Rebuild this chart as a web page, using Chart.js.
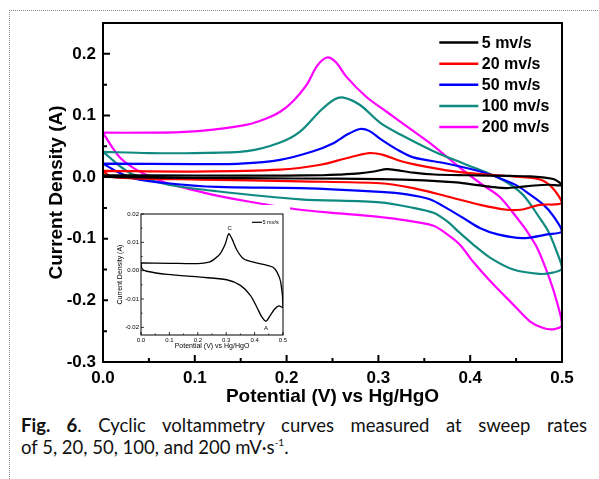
<!DOCTYPE html>
<html>
<head>
<meta charset="utf-8">
<script src="https://cdn.jsdelivr.net/npm/chart.js@4.4.1/dist/chart.umd.min.js"></script>
<style>
  html, body { margin: 0; padding: 0; background: #fff; }
  body { width: 599px; height: 479px; position: relative; overflow: hidden; }
  #frame { position: absolute; left: 9px; top: 10px; width: 600px; height: 480px;
           border-top: 1px dotted #8a8a8a; border-left: 1px dotted #8a8a8a; }
  #main { position: absolute; left: 0; top: 0; }
  #inset { position: absolute; left: 108px; top: 205px; background: #fff; }
  #caption { position: absolute; left: 21px; top: 414px; width: 566px;
             font-family: Lato, "Open Sans", sans-serif; font-size: 18.5px; line-height: 22px; color: #111; }
  #caption .l1 { text-align: justify; text-align-last: justify; }
  #caption sup { font-size: 10px; line-height: 0; vertical-align: 8px; }
</style>
</head>
<body>
<div id="frame"></div>
<canvas id="main" width="599" height="408"></canvas>
<canvas id="inset" width="182" height="150"></canvas>
<div id="caption">
  <div class="l1"><b>Fig. 6</b>. Cyclic voltammetry curves measured at sweep rates</div>
  <div>of 5, 20, 50, 100, and 200 mV·s<sup>-1</sup>.</div>
</div>
<script>
// sweep rates (legend labels)
const rates = ['5 mv/s', '20 mv/s', '50 mv/s', '100 mv/s', '200 mv/s'];

// each loop: forward sweep 0 -> 0.5 V, then reverse sweep back to 0 V
const v5 = [0, 0.1, 0.2, 0.24, 0.256, 0.279, 0.297, 0.309, 0.32, 0.338, 0.361, 0.396, 0.444, 0.465, 0.479, 0.492, 0.5,
            0.485, 0.47, 0.455, 0.44, 0.426, 0.408, 0.385, 0.35, 0.302, 0.209, 0.092, 0.02, 0.004, 0];
const i5 = [0.0027, 0.0026, 0.0025, 0.003, 0.0039, 0.006, 0.0095, 0.013, 0.0113, 0.0072, 0.0042, 0.003, 0.0019, 0.0012, -0.0005, -0.004, -0.0129,
            -0.0124, -0.0136, -0.0158, -0.0178, -0.0164, -0.0129, -0.0087, -0.0052, -0.0032, -0.0023, -0.0013, -0.0002, 0.0006, 0.0027];

const v20 = [0, 0.1, 0.193, 0.237, 0.266, 0.29, 0.305, 0.324, 0.338, 0.374, 0.411, 0.447, 0.476, 0.49, 0.5,
             0.476, 0.455, 0.44, 0.411, 0.374, 0.338, 0.302, 0.215, 0.106, 0.033, 0.008, 0];
const i20 = [0.010, 0.009, 0.012, 0.020, 0.031, 0.039, 0.036, 0.026, 0.021, 0.011, 0.005, 0.001, -0.004, -0.018, -0.042,
             -0.045, -0.053, -0.053, -0.045, -0.031, -0.018, -0.010, -0.007, -0.004, -0.002, 0.001, 0.010];

const v50 = [0, 0.1, 0.15, 0.193, 0.229, 0.251, 0.266, 0.28, 0.29, 0.302, 0.32, 0.338, 0.374, 0.411, 0.429, 0.45, 0.465, 0.48, 0.49, 0.5,
             0.484, 0.457, 0.43, 0.411, 0.392, 0.374, 0.356, 0.331, 0.302, 0.215, 0.124, 0.07, 0.033, 0.015, 0];
const i50 = [0.022, 0.021, 0.022, 0.028, 0.042, 0.055, 0.069, 0.078, 0.075, 0.062, 0.045, 0.032, 0.022, 0.009, 0.0, -0.013, -0.028, -0.045, -0.062, -0.088,
             -0.093, -0.099, -0.093, -0.083, -0.066, -0.050, -0.036, -0.028, -0.024, -0.018, -0.016, -0.010, -0.002, 0.009, 0.022];

const v100 = [0, 0.05, 0.1, 0.157, 0.193, 0.215, 0.237, 0.252, 0.262, 0.28, 0.302, 0.324, 0.36, 0.396, 0.432, 0.457, 0.476, 0.485, 0.494, 0.5,
              0.49, 0.475, 0.447, 0.422, 0.403, 0.389, 0.375, 0.36, 0.338, 0.302, 0.215, 0.124, 0.07, 0.033, 0.019, 0.008, 0];
const i100 = [0.041, 0.039, 0.039, 0.042, 0.056, 0.074, 0.108, 0.126, 0.129, 0.117, 0.088, 0.069, 0.042, 0.020, -0.002, -0.028, -0.067, -0.088, -0.12, -0.148,
              -0.155, -0.157, -0.150, -0.131, -0.109, -0.091, -0.072, -0.058, -0.050, -0.041, -0.036, -0.023, -0.012, 0.004, 0.017, 0.031, 0.041];

const v200 = [0, 0.05, 0.084, 0.12, 0.157, 0.178, 0.193, 0.207, 0.222, 0.233, 0.244, 0.254, 0.265, 0.287, 0.309, 0.334, 0.359, 0.389, 0.411, 0.432,
              0.454, 0.462, 0.473, 0.484, 0.493, 0.5,
              0.49, 0.478, 0.465, 0.447, 0.422, 0.403, 0.389, 0.375, 0.36, 0.324, 0.29, 0.25, 0.215, 0.16, 0.124, 0.095, 0.07, 0.051, 0.033, 0.019, 0.008, 0];
const i200 = [0.072, 0.072, 0.073, 0.077, 0.085, 0.095, 0.106, 0.123, 0.150, 0.180, 0.194, 0.186, 0.163, 0.130, 0.106, 0.079, 0.052, 0.015, -0.010, -0.032,
              -0.072, -0.088, -0.115, -0.155, -0.195, -0.240,
              -0.247, -0.244, -0.234, -0.207, -0.169, -0.137, -0.110, -0.093, -0.079, -0.069, -0.063, -0.058, -0.053, -0.040, -0.030, -0.020, -0.010, 0.001, 0.015, 0.031, 0.053, 0.072];

// tick labels
const xTickLabels = ['0.0', '0.1', '0.2', '0.3', '0.4', '0.5'];
const yTickLabels = ['-0.3', '-0.2', '-0.1', '0.0', '0.1', '0.2'];
const insetXTickLabels = ['0.0', '0.1', '0.2', '0.3', '0.4', '0.5'];
const insetYTickLabels = ['-0.02', '-0.01', '0.00', '0.01', '0.02'];

// inset peak marks
const peakLabels = ['C', 'A'];
const peakV = [0.312, 0.44];
const peakI = [0.0150, -0.0205];

const colors = ['#000000', '#ff0000', '#0000ff', '#0e8a80', '#ff00ff'];
const sweeps = [[v5, i5], [v20, i20], [v50, i50], [v100, i100], [v200, i200]];

const FONT = '"Liberation Sans", Arial, sans-serif';
Chart.defaults.font.family = FONT;
Chart.defaults.color = '#000';

function toPoints(v, i) {
  return v.map((x, k) => ({ x: x, y: i[k] }));
}

// box round the plot plus inward major/minor ticks on bottom and left
function frameTicks(o) {
  return {
    id: 'frameTicks',
    afterDatasetsDraw(chart) {
      const { ctx, chartArea: a, scales: { x, y } } = chart;
      const marks = (scale) => {
        const vals = scale.ticks.map(t => t.value);
        const step = vals[1] - vals[0];
        const out = vals.map(v => [v, o.major]);
        vals.forEach(v => { if (v + step / 2 < scale.max - 1e-9) out.push([v + step / 2, o.minor]); });
        return out;
      };
      ctx.save();
      ctx.strokeStyle = '#000';
      ctx.lineWidth = o.tick;
      ctx.beginPath();
      marks(x).forEach(([v, len]) => {
        const px = x.getPixelForValue(v);
        ctx.moveTo(px, a.bottom); ctx.lineTo(px, a.bottom - len);
      });
      marks(y).forEach(([v, len]) => {
        const py = y.getPixelForValue(v);
        ctx.moveTo(a.left, py); ctx.lineTo(a.left + len, py);
      });
      ctx.stroke();
      ctx.lineWidth = o.frame;
      ctx.strokeRect(a.left, a.top, a.right - a.left, a.bottom - a.top);
      ctx.restore();
    }
  };
}

const mainLegend = {
  id: 'mainLegend',
  afterDraw(chart) {
    const { ctx, chartArea: a } = chart;
    ctx.save();
    ctx.font = 'bold 16px ' + FONT;
    ctx.textBaseline = 'middle';
    chart.data.datasets.forEach((ds, k) => {
      const y = a.top + 19.6 + k * 21.1;
      const x0 = a.right - 122.7;
      ctx.strokeStyle = ds.borderColor;
      ctx.lineWidth = 2.5;
      ctx.beginPath(); ctx.moveTo(x0, y); ctx.lineTo(x0 + 39, y); ctx.stroke();
      ctx.fillStyle = '#000';
      ctx.fillText(ds.label, x0 + 42.5, y + 1);
    });
    ctx.restore();
  }
};

const insetMarks = {
  id: 'insetMarks',
  afterDraw(chart) {
    const { ctx, chartArea: a, scales: { x, y } } = chart;
    ctx.save();
    ctx.fillStyle = '#000';
    ctx.font = '6px ' + FONT;
    ctx.textAlign = 'center';
    ctx.textBaseline = 'middle';
    peakLabels.forEach((t, k) => ctx.fillText(t, x.getPixelForValue(peakV[k]), y.getPixelForValue(peakI[k])));
    // legend
    const ds = chart.data.datasets[0];
    const ly = a.top + 8.3;
    const lx = a.right - 31;
    ctx.strokeStyle = ds.borderColor;
    ctx.lineWidth = 1.2;
    ctx.beginPath(); ctx.moveTo(lx, ly); ctx.lineTo(lx + 10, ly); ctx.stroke();
    ctx.font = '5.5px ' + FONT;
    ctx.textAlign = 'left';
    ctx.fillText(ds.label, lx + 10.5, ly + 0.5);
    ctx.restore();
  }
};

function fixedTicks(labels) {
  return (scale) => { scale.ticks = labels.map(s => ({ value: parseFloat(s) })); };
}

new Chart(document.getElementById('main'), {
  type: 'scatter',
  data: {
    datasets: sweeps.map(([v, i], k) => ({
      label: rates[k],
      data: toPoints(v, i),
      showLine: true,
      borderColor: colors[k],
      backgroundColor: colors[k],
      borderWidth: 2.2,
      pointRadius: 0,
      tension: 0.3
    }))
  },
  options: {
    responsive: false,
    animation: false,
    devicePixelRatio: 1,
    layout: { padding: { top: 23, right: 37, left: 0, bottom: 0 } },
    plugins: { legend: { display: false }, tooltip: { enabled: false } },
    scales: {
      x: {
        type: 'linear', min: 0, max: 0.5,
        afterBuildTicks: fixedTicks(xTickLabels),
        afterFit: (s) => { s.height = 46; },
        grid: { display: false, drawTicks: false },
        border: { display: false },
        ticks: { autoSkip: false, maxRotation: 0, padding: 6, font: { size: 17, weight: 'bold' },
                 callback: (v, idx) => xTickLabels[idx] },
        title: { display: true, text: 'Potential (V) vs Hg/HgO', font: { size: 19, weight: 'bold' },
                 padding: { top: 0, bottom: 0 } }
      },
      y: {
        type: 'linear', min: -0.3, max: 0.25,
        afterBuildTicks: fixedTicks(yTickLabels),
        afterFit: (s) => { s.width = 103; },
        grid: { display: false, drawTicks: false },
        border: { display: false },
        ticks: { autoSkip: false, padding: 7, font: { size: 17, weight: 'bold' },
                 callback: (v, idx) => yTickLabels[idx] },
        title: { display: true, text: 'Current Density (A)', font: { size: 19, weight: 'bold' },
                 padding: { top: 45, bottom: 0 } }
      }
    }
  },
  plugins: [frameTicks({ major: 7, minor: 4, tick: 2, frame: 2 }), mainLegend]
});

new Chart(document.getElementById('inset'), {
  type: 'scatter',
  data: {
    datasets: [{
      label: rates[0],
      data: toPoints(v5, i5),
      showLine: true,
      borderColor: colors[0],
      borderWidth: 1.3,
      pointRadius: 0,
      tension: 0.3
    }]
  },
  options: {
    responsive: false,
    animation: false,
    devicePixelRatio: 1,
    layout: { padding: { top: 9, right: 7, left: 0, bottom: 0 } },
    plugins: { legend: { display: false }, tooltip: { enabled: false } },
    scales: {
      x: {
        type: 'linear', min: 0, max: 0.5,
        afterBuildTicks: fixedTicks(insetXTickLabels),
        afterFit: (s) => { s.height = 20; },
        grid: { display: false, drawTicks: false },
        border: { display: false },
        ticks: { autoSkip: false, maxRotation: 0, padding: 2, font: { size: 6 },
                 callback: (v, idx) => insetXTickLabels[idx] },
        title: { display: true, text: 'Potential (V) vs Hg/HgO', font: { size: 7 },
                 padding: { top: 0, bottom: 5 } }
      },
      y: {
        type: 'linear', min: -0.0227, max: 0.02,
        afterBuildTicks: fixedTicks(insetYTickLabels),
        afterFit: (s) => { s.width = 33; },
        grid: { display: false, drawTicks: false },
        border: { display: false },
        ticks: { autoSkip: false, padding: 2, font: { size: 6 },
                 callback: (v, idx) => insetYTickLabels[idx] },
        title: { display: true, text: 'Current Density (A)', font: { size: 7 },
                 padding: { top: 8, bottom: 0 } }
      }
    }
  },
  plugins: [frameTicks({ major: 3, minor: 1.5, tick: 0.8, frame: 1 }), insetMarks]
});
</script>
</body>
</html>
